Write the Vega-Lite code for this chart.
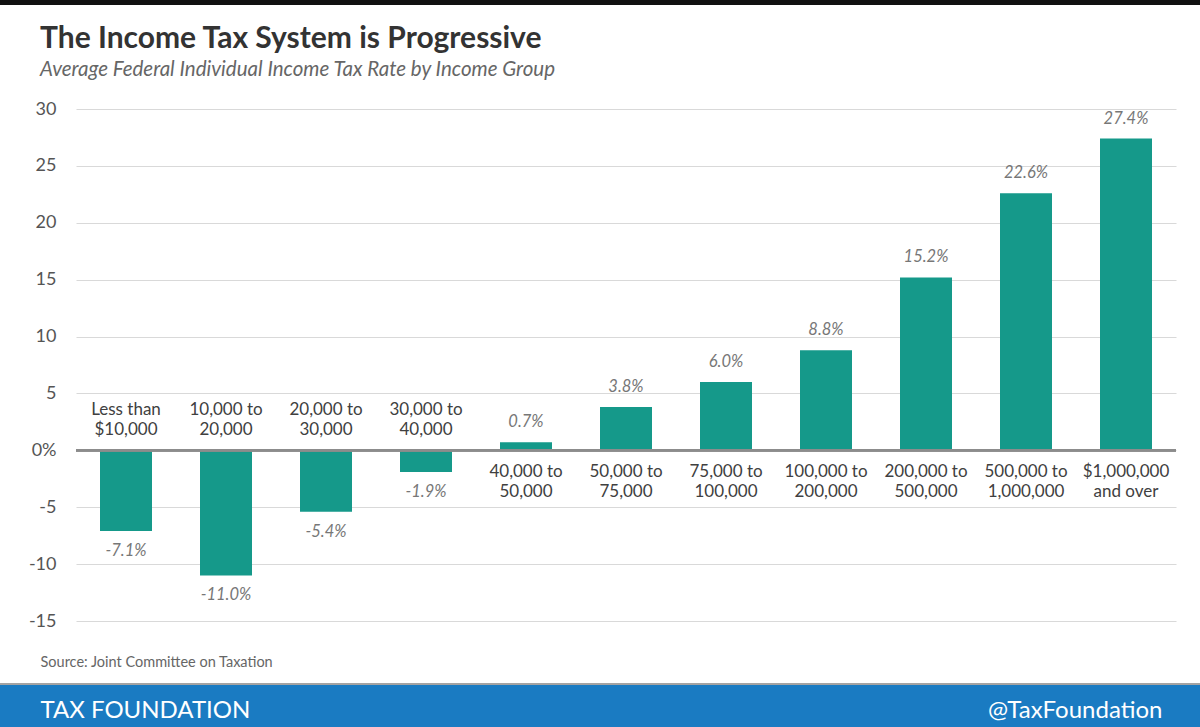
{
  "$schema": "https://vega.github.io/schema/vega-lite/v6.json",
  "width": 1100,
  "height": 512,
  "autosize": {"type": "none"},
  "padding": {"left": 76, "top": 109, "right": 24, "bottom": 106},
  "background": "white",
  "config": {"view": {"stroke": null}, "font": "Lato", "text": {"font": "Lato"}},
  "title": {
    "text": "The Income Tax System is Progressive",
    "subtitle": "Average Federal Individual Income Tax Rate by Income Group",
    "anchor": "start",
    "frame": "group",
    "dx": -36,
    "offset": -85,
    "font": "Lato",
    "fontSize": 30,
    "fontWeight": "bold",
    "color": "#333333",
    "subtitleFont": "Lato",
    "subtitleFontSize": 20.5,
    "subtitleFontStyle": "italic",
    "subtitleColor": "#666666",
    "subtitlePadding": 6
  },
  "data": {
    "values": [
      {"group": "Less than\n$10,000", "rate": -7.1},
      {"group": "10,000 to\n20,000", "rate": -11.0},
      {"group": "20,000 to\n30,000", "rate": -5.4},
      {"group": "30,000 to\n40,000", "rate": -1.9},
      {"group": "40,000 to\n50,000", "rate": 0.7},
      {"group": "50,000 to\n75,000", "rate": 3.8},
      {"group": "75,000 to\n100,000", "rate": 6.0},
      {"group": "100,000 to\n200,000", "rate": 8.8},
      {"group": "200,000 to\n500,000", "rate": 15.2},
      {"group": "500,000 to\n1,000,000", "rate": 22.6},
      {"group": "$1,000,000\nand over", "rate": 27.4}
    ]
  },
  "resolve": {"scale": {"y": "shared"}, "axis": {"y": "independent"}},
  "layer": [
    {
      "mark": {"type": "bar", "color": "#15998a"},
      "encoding": {
        "x": {"field": "group", "type": "nominal", "sort": null,
          "scale": {"paddingInner": 0.48, "paddingOuter": 0.24},
          "axis": {"labels": false, "ticks": false, "domain": false, "grid": false, "zindex": 2,
            "title": "TAX FOUNDATION", "titleX": -36, "titleY": 96,
            "titleAlign": "left", "titleAnchor": "start", "titleBaseline": "alphabetic",
            "titleFont": "Lato", "titleFontSize": 24, "titleFontWeight": "normal", "titleColor": "#ffffff"}},
        "y": {"field": "rate", "type": "quantitative",
          "scale": {"domain": [-15, 30], "nice": false, "zero": false},
          "axis": {"orient": "left", "values": [-15, -10, -5, 0, 5, 10, 15, 20, 25, 30],
            "labelExpr": "datum.value == 0 ? '0%' : '' + datum.value",
            "grid": true, "gridColor": "#d9d9d9", "gridWidth": 1.2,
            "ticks": false, "domain": false, "labelPadding": 20,
            "labelFont": "Lato", "labelFontSize": 18, "labelColor": "#555555",
            "title": "Source: Joint Committee on Taxation", "titleX": -36, "titleY": 557, "titleAngle": 0,
            "titleAlign": "left", "titleBaseline": "alphabetic", "titleFont": "Lato",
            "titleFontSize": 14.5, "titleFontWeight": "normal", "titleColor": "#666666"}}
      }
    },
    {
      "mark": {"type": "rule", "color": "#8c8c8c", "strokeWidth": 2},
      "encoding": {
        "y": {"datum": 0, "type": "quantitative", "scale": {"domain": [-15, 30], "nice": false, "zero": false}, "axis": null}
      }
    },
    {
      "transform": [{"filter": "datum.rate < 0"}],
      "mark": {"type": "text", "lineBreak": "\n", "lineHeight": 20, "baseline": "alphabetic", "dy": -35, "fontSize": 17, "color": "#404040", "align": "center"},
      "encoding": {
        "x": {"field": "group", "type": "nominal", "sort": null},
        "y": {"datum": 0, "type": "quantitative", "scale": {"domain": [-15, 30], "nice": false, "zero": false}, "axis": null},
        "text": {"field": "group"}
      }
    },
    {
      "transform": [{"filter": "datum.rate >= 0"}],
      "mark": {"type": "text", "lineBreak": "\n", "lineHeight": 20, "baseline": "alphabetic", "dy": 27, "fontSize": 17, "color": "#404040", "align": "center"},
      "encoding": {
        "x": {"field": "group", "type": "nominal", "sort": null},
        "y": {"datum": 0, "type": "quantitative", "scale": {"domain": [-15, 30], "nice": false, "zero": false}, "axis": null},
        "text": {"field": "group"}
      }
    },
    {
      "transform": [{"filter": "datum.rate >= 0"}],
      "mark": {"type": "text", "baseline": "alphabetic", "dy": -15, "fontSize": 16.5, "fontStyle": "italic", "color": "#777777", "align": "center",
        "text": {"expr": "replace(format(datum.rate, '.1f'), '\u2212', '-') + '%'"}},
      "encoding": {
        "x": {"field": "group", "type": "nominal", "sort": null},
        "y": {"field": "rate", "type": "quantitative", "scale": {"domain": [-15, 30], "nice": false, "zero": false}, "axis": null}
      }
    },
    {
      "transform": [{"filter": "datum.rate < 0"}],
      "mark": {"type": "text", "baseline": "alphabetic", "dy": 25, "fontSize": 16.5, "fontStyle": "italic", "color": "#777777", "align": "center",
        "text": {"expr": "replace(format(datum.rate, '.1f'), '\u2212', '-') + '%'"}},
      "encoding": {
        "x": {"field": "group", "type": "nominal", "sort": null},
        "y": {"field": "rate", "type": "quantitative", "scale": {"domain": [-15, 30], "nice": false, "zero": false}, "axis": null}
      }
    },
    {
      "data": {"values": [{}]},
      "mark": {"type": "rect", "color": "#111111"},
      "encoding": {
        "x": {"value": -80},
        "x2": {"value": 1130},
        "y": {"datum": 40, "type": "quantitative", "scale": {"domain": [-15, 30], "nice": false, "zero": false}, "axis": null},
        "y2": {"datum": 39.15}
      }
    },
    {
      "data": {"values": [{}]},
      "mark": {"type": "rect", "color": "#1a7bc2", "stroke": "#a3a3a3", "strokeWidth": 2},
      "encoding": {
        "x": {"value": -80},
        "x2": {"value": 1130},
        "y": {"datum": -20.54, "type": "quantitative", "scale": {"domain": [-15, 30], "nice": false, "zero": false},
          "axis": {"orient": "right", "labels": false, "ticks": false, "domain": false, "grid": false, "zindex": 2,
            "title": "@TaxFoundation", "titleX": -14, "titleY": 608, "titleAngle": 0,
            "titleAlign": "right", "titleBaseline": "alphabetic", "titleFont": "Lato",
            "titleFontSize": 24, "titleFontWeight": "normal", "titleColor": "#ffffff"}},
        "y2": {"datum": -25}
      }
    }
  ]
}
